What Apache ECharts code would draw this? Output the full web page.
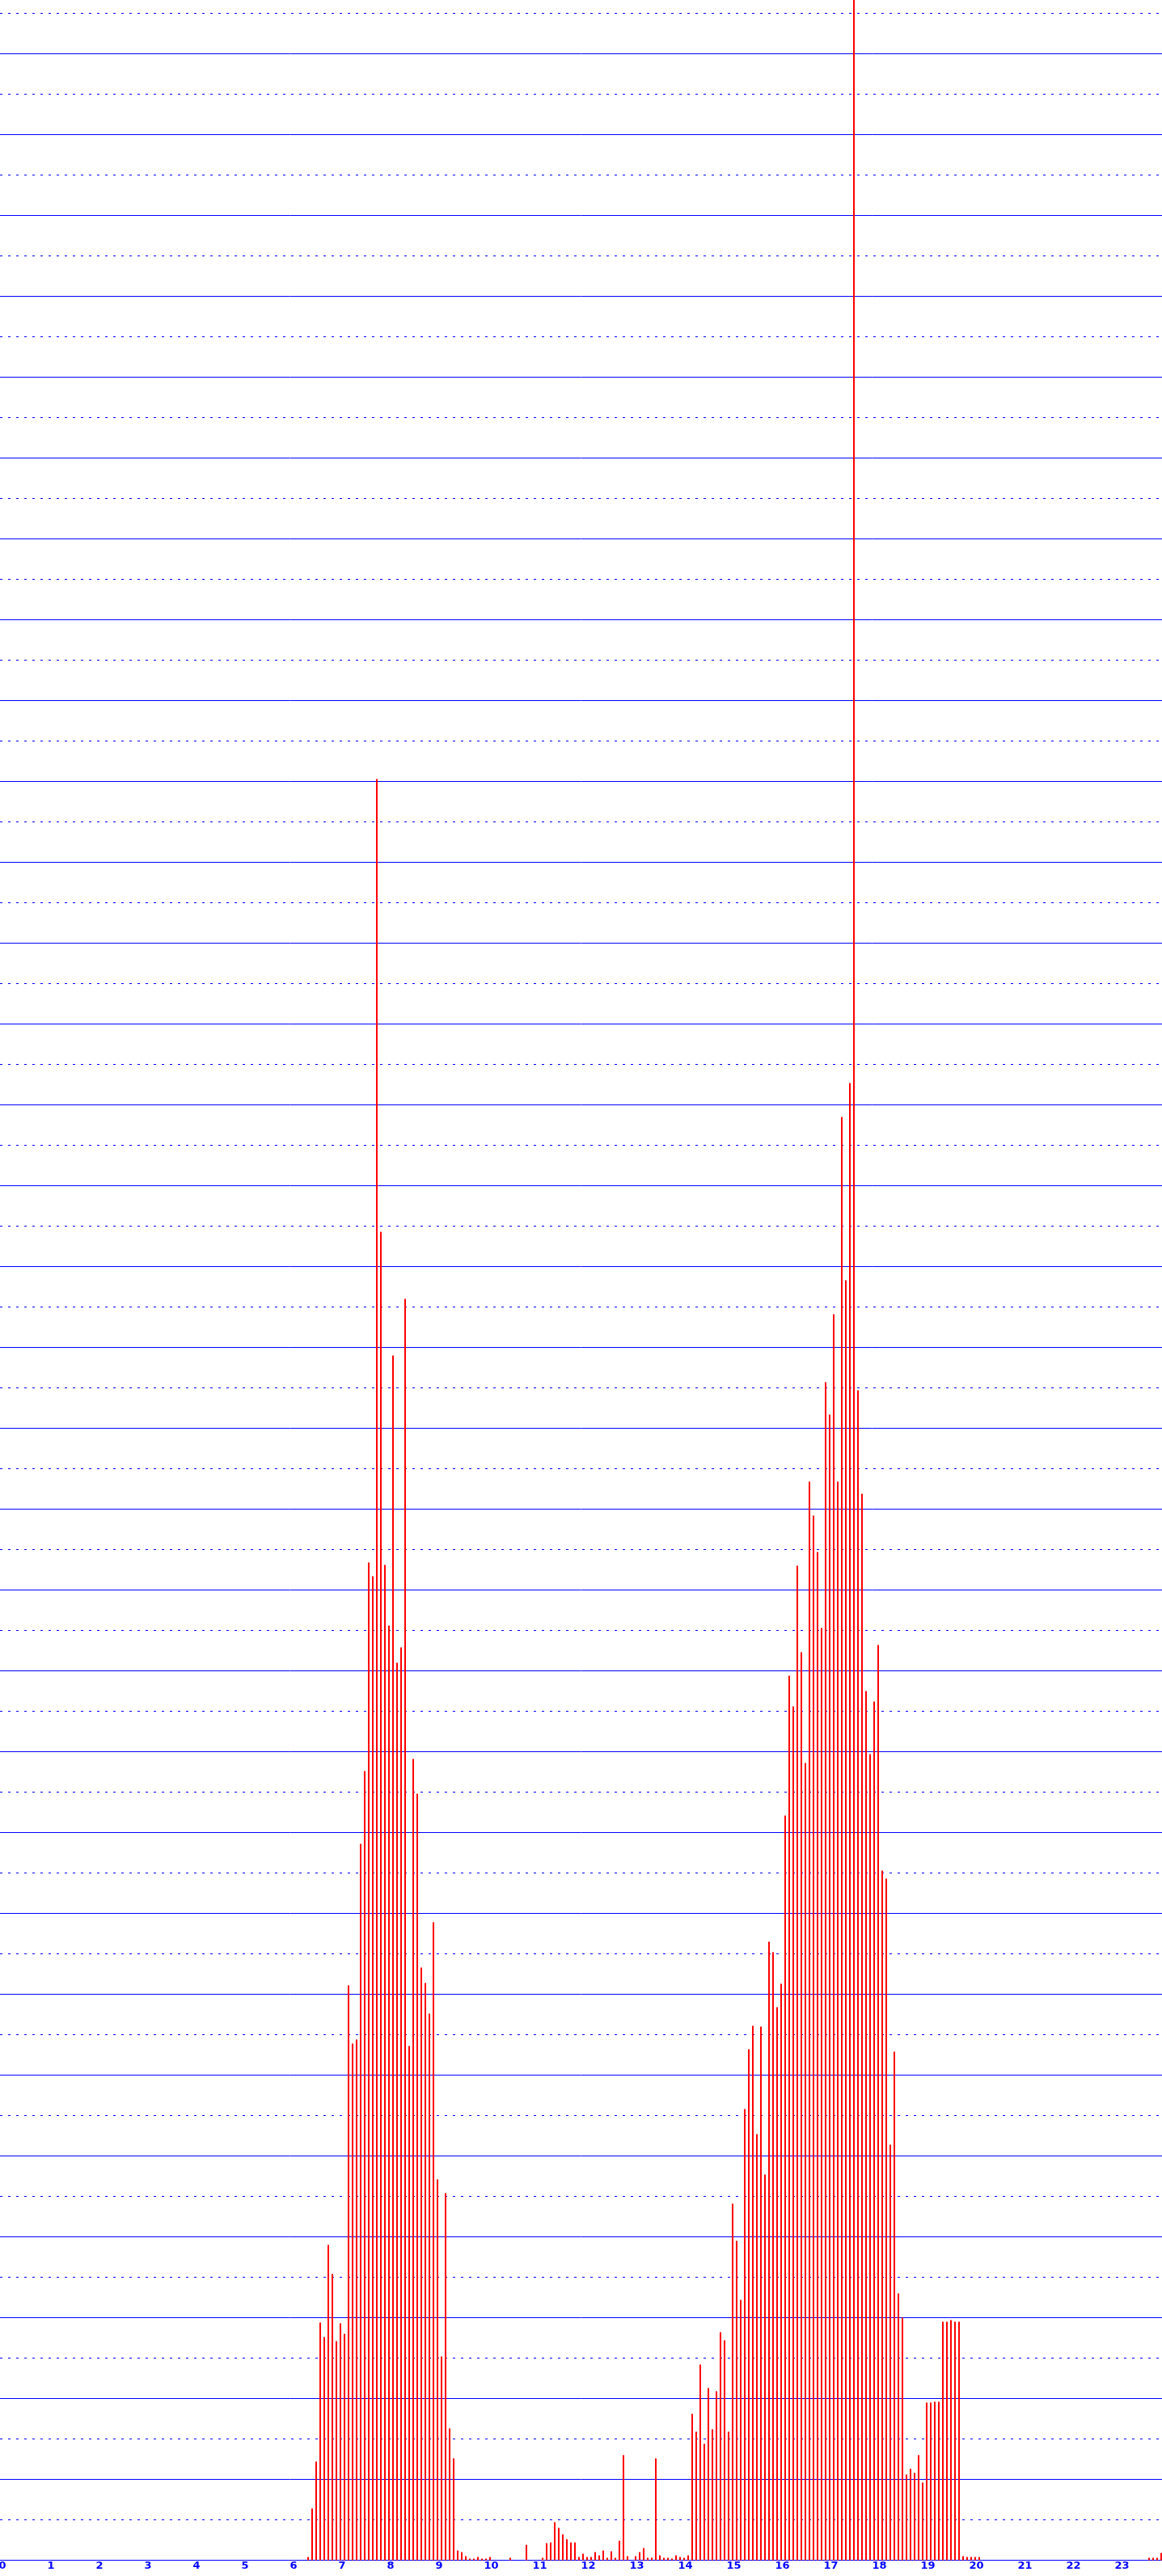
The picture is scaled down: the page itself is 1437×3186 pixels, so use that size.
<!DOCTYPE html>
<html>
<head>
<meta charset="utf-8">
<script src="https://cdn.jsdelivr.net/npm/echarts@6/dist/echarts.min.js"></script>
<style>
html,body{margin:0;padding:0;background:#ffffff;}
#chart{width:1437px;height:3186px;}
</style>
</head>
<body>
<div id="chart"></div>
<script>
// Tick labels of the x axis (hours of the day)
const hourLabels = ['0','1','2','3','4','5','6','7','8','9','10','11','12','13','14','15','16','17','18','19','20','21','22','23'];
// 5-minute bins per hour
const minuteSteps = ['00','05','10','15','20','25','30','35','40','45','50','55'];

// Series values, one row per hour (12 five-minute bins each)
const values = [
  /* 0 */ 0,0,0,0,0,0,0,0,0,0,0,0,
  /* 1 */ 0,0,0,0,0,0,0,0,0,0,0,0,
  /* 2 */ 0,0,0,0,0,0,0,0,0,0,0,0,
  /* 3 */ 0,0,0,0,0,0,0,0,0,0,0,0,
  /* 4 */ 0,0,0,0,0,0,0,0,0,0,0,0,
  /* 5 */ 0,0,0,0,0,0,0,0,0,0,0,0,
  /* 6 */ 0,0,0,0,0.4,6.4,12.2,29.4,27.6,39.0,35.4,27.1,
  /* 7 */ 29.3,28.0,71.1,63.9,64.4,88.6,97.6,123.4,121.7,220.3,164.3,123.1,
  /* 8 */ 115.6,149.0,111.0,112.9,156.0,63.6,99.1,94.8,73.3,71.4,67.6,78.9,
  /* 9 */ 47.1,25.2,45.4,16.3,12.6,1.2,1.0,0.5,0.2,0.2,0.4,0.2,
  /*10 */ 0.2,0.4,0,0,0,0,0.3,0,0,0,1.9,0,
  /*11 */ 0,0,0.3,2.1,2.2,4.7,4.0,3.2,2.6,2.2,2.2,0.4,
  /*12 */ 0.8,0.4,0.4,1.0,0.6,1.2,0.3,1.1,0.3,2.4,13.0,0.5,
  /*13 */ 0,0.5,1.0,1.5,0.3,0.3,12.6,0.6,0.3,0.3,0.2,0.6,
  /*14 */ 0.4,0.3,0.6,18.1,15.9,24.2,14.4,21.3,16.2,20.9,28.2,27.2,
  /*15 */ 15.9,44.1,39.5,32.2,55.8,63.2,66.1,52.7,66.0,47.7,76.5,75.2,
  /*16 */ 68.4,71.3,92.1,109.4,105.6,123.0,112.3,98.6,133.4,129.2,124.7,115.3,
  /*17 */ 145.7,141.7,154.1,133.4,178.5,158.3,182.7,330.0,144.7,131.9,107.5,99.7,
  /*18 */ 106.2,113.2,85.3,84.3,51.4,62.9,33.0,30.0,10.6,11.3,10.8,13.0,
  /*19 */ 9.6,19.5,19.5,19.6,19.6,29.5,29.5,29.7,29.5,29.5,0.5,0.4,
  /*20 */ 0.4,0.4,0.4,0,0,0,0,0,0,0,0,0,
  /*21 */ 0,0,0,0,0,0,0,0,0,0,0,0,
  /*22 */ 0,0,0,0,0,0,0,0,0,0,0,0,
  /*23 */ 0,0,0,0,0,0,0,0,0.3,0.3,0.3,0.9
];

// y scale: solid grid every 10 units, dotted in between
const yMin = 0;
const yMax = 320;
const yInterval = 10;

const categories = [];
hourLabels.forEach(h => minuteSteps.forEach(m => categories.push(h + ':' + m)));

const BLUE = '#0000ff';
const RED = '#ff0000';

const chart = echarts.init(document.getElementById('chart'), null, {renderer: 'canvas'});
chart.setOption({
  animation: false,
  backgroundColor: '#ffffff',
  grid: {left: -1.5, top: -33.5, width: 1440, height: 3200, containLabel: false, outerBoundsMode: 'none'},
  xAxis: [
    {
      type: 'category',
      data: categories,
      boundaryGap: true,
      position: 'bottom',
      axisLine: {show: true, lineStyle: {color: BLUE, width: 1}},
      axisTick: {show: false},
      axisLabel: {show: false},
      splitLine: {show: false}
    },
    {
      type: 'value',
      min: 0,
      max: hourLabels.length,
      interval: 1,
      position: 'bottom',
      axisLine: {show: false, onZero: false},
      axisTick: {show: false},
      splitLine: {show: false},
      axisLabel: {
        show: true,
        color: BLUE,
        fontSize: 13,
        fontWeight: 'bold',
        fontFamily: 'DejaVu Sans',
        align: 'left',
        margin: 1,
        showMaxLabel: false,
        formatter: v => (hourLabels[v] !== undefined ? hourLabels[v] : '')
      }
    }
  ],
  yAxis: {
    type: 'value',
    min: yMin,
    max: yMax,
    interval: yInterval,
    axisLine: {show: false},
    axisTick: {show: false},
    axisLabel: {show: false},
    splitLine: {show: true, lineStyle: {color: BLUE, width: 1, type: 'solid'}},
    minorTick: {show: false, splitNumber: 2},
    minorSplitLine: {show: true, lineStyle: {color: BLUE, width: 1, type: [3, 7], dashOffset: 8.5}}
  },
  series: [{
    type: 'bar',
    xAxisIndex: 0,
    data: values,
    barWidth: 2,
    clip: true,
    silent: true,
    itemStyle: {color: RED}
  }]
});
</script>
</body>
</html>
